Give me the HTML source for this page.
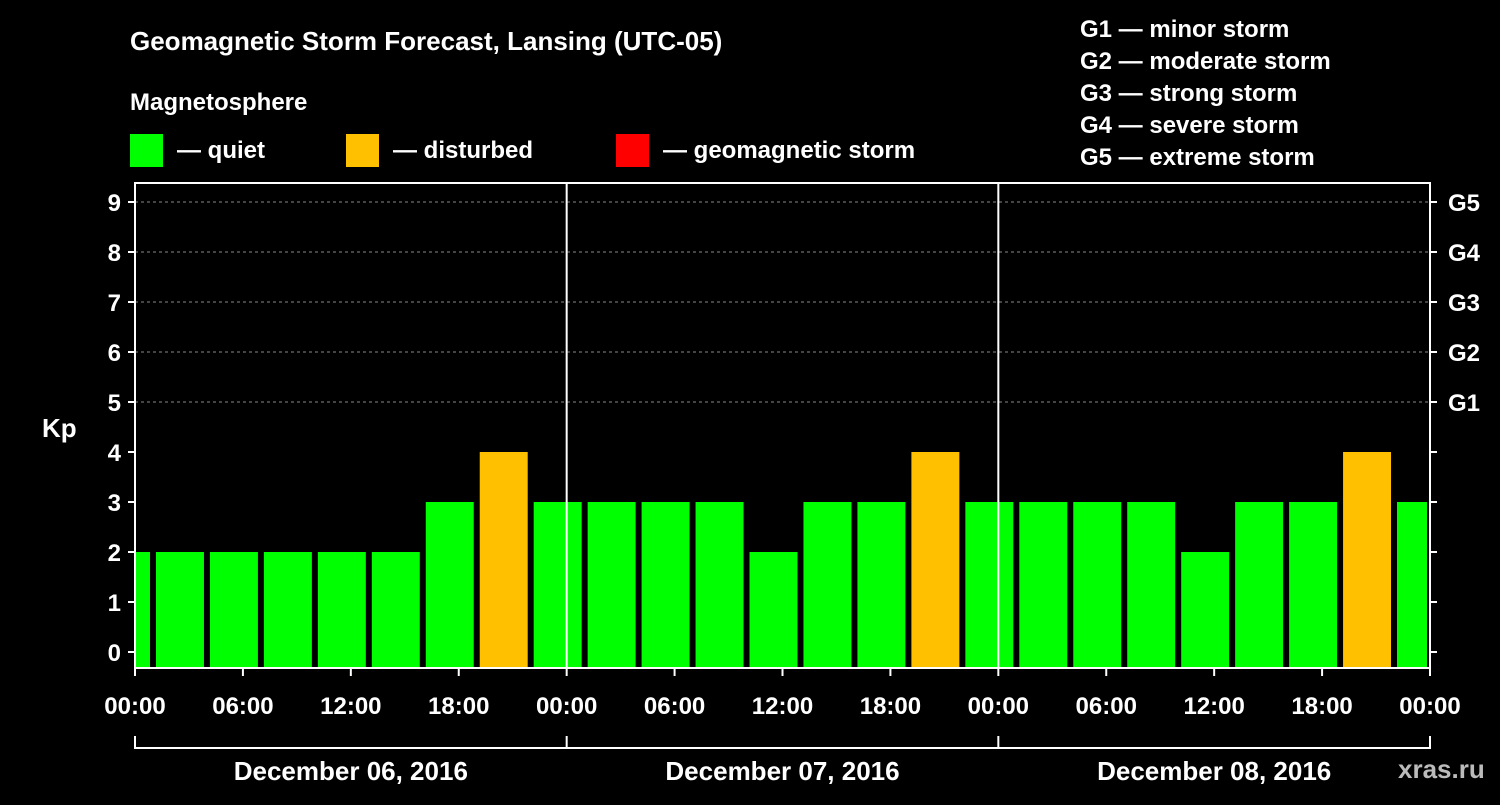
<!DOCTYPE html>
<html><head><meta charset="utf-8"><style>
body{margin:0;background:#000;width:1500px;height:800px;overflow:hidden}
svg text{font-family:"Liberation Sans",Arial,sans-serif;font-weight:bold;fill:#fff}
</style></head><body>
<svg id="chart" width="1500" height="800" xmlns="http://www.w3.org/2000/svg">
<rect x="0" y="0" width="1500" height="800" fill="#000"/>
<text x="130" y="50" font-size="26">Geomagnetic Storm Forecast, Lansing (UTC-05)</text>
<text x="130" y="110" font-size="24">Magnetosphere</text>
<g><rect x="130" y="134" width="33" height="33" fill="#00ff00"/><text x="177" y="158" font-size="24">— quiet</text></g>
<g><rect x="346" y="134" width="33" height="33" fill="#ffc000"/><text x="393" y="158" font-size="24">— disturbed</text></g>
<g><rect x="616" y="134" width="33" height="33" fill="#ff0000"/><text x="663" y="158" font-size="24">— geomagnetic storm</text></g>
<g font-size="24">
<text x="1080" y="37">G1 — minor storm</text>
<text x="1080" y="69">G2 — moderate storm</text>
<text x="1080" y="101">G3 — strong storm</text>
<text x="1080" y="133">G4 — severe storm</text>
<text x="1080" y="165">G5 — extreme storm</text>
</g>
<text x="42" y="437" font-size="26">Kp</text>
<text x="1398" y="778" font-size="26" fill="#aaa" style="fill:#bbb">xras.ru</text>
<g id="grid"></g><g id="bars"></g><g id="axes"></g>
</svg>
<script>
const kpValues=[2,2,2,2,2,2,3,4,3,3,3,3,2,3,3,4,3,3,3,3,2,3,3,4,3];
const yTicks=[0,1,2,3,4,5,6,7,8,9];
const gLabels=["G1","G2","G3","G4","G5"];
const gLevels=[5,6,7,8,9];
const xTickLabels=["00:00","06:00","12:00","18:00","00:00","06:00","12:00","18:00","00:00","06:00","12:00","18:00","00:00"];
const dayLabels=["December 06, 2016","December 07, 2016","December 08, 2016"];
const NS="http://www.w3.org/2000/svg";
const L=135,R=1430,T=183,B=668;
const pxH=(R-L)/72;
const x=h=>L+h*pxH;
const y=v=>652-v*50;
function mk(tag,attrs,parent,txt){const e=document.createElementNS(NS,tag);for(const k in attrs)e.setAttribute(k,attrs[k]);if(txt!==undefined)e.textContent=txt;parent.appendChild(e);return e;}
const grid=document.getElementById('grid'),bars=document.getElementById('bars'),axes=document.getElementById('axes');
gLevels.forEach((g,i)=>{const l=mk('line',{x1:L,x2:R,y1:y(g),y2:y(g),stroke:'#888','stroke-dasharray':'3,3','stroke-width':1},grid);


const t=mk('text',{x:1448,y:y(g)+9,'font-size':24},axes,gLabels[i]);

});
kpValues.forEach((v,i)=>{let s=x(-2+3*i)+3,e=x(1+3*i)-3;s=Math.max(s,L+1);e=Math.min(e,R-3);
const r=mk('rect',{x:s,y:y(v),width:e-s,height:B-y(v),fill:v>=5?'#ff0000':(v>=4?'#ffc000':'#00ff00')},bars);

});
[1,2].forEach(d=>{const l=mk('line',{x1:x(24*d),x2:x(24*d),y1:T,y2:B,stroke:'#fff','stroke-width':2},axes);

});
const fr=mk('rect',{x:L,y:T,width:R-L,height:B-T,fill:'none',stroke:'#fff','stroke-width':2},axes);


yTicks.forEach(v=>{mk('line',{x1:L-7,x2:L,y1:y(v),y2:y(v),stroke:'#fff','stroke-width':2},axes);
mk('line',{x1:R,x2:R+7,y1:y(v),y2:y(v),stroke:'#fff','stroke-width':2},axes);
const t=mk('text',{x:L-14,y:y(v)+9,'font-size':24,'text-anchor':'end'},axes,v);

});
xTickLabels.forEach((s,i)=>{const xx=x(6*i);mk('line',{x1:xx,x2:xx,y1:B,y2:B+8,stroke:'#fff','stroke-width':2},axes);
const t=mk('text',{x:xx,y:714,'font-size':24,'text-anchor':'middle'},axes,s);

});
mk('line',{x1:L,x2:R,y1:748,y2:748,stroke:'#fff','stroke-width':2},axes);
[0,1,2,3].forEach(d=>mk('line',{x1:x(24*d),x2:x(24*d),y1:736,y2:749,stroke:'#fff','stroke-width':2},axes));
dayLabels.forEach((s,i)=>{const t=mk('text',{x:x(24*i+12),y:780,'font-size':26,'text-anchor':'middle'},axes,s);

});
</script>
</body></html>
